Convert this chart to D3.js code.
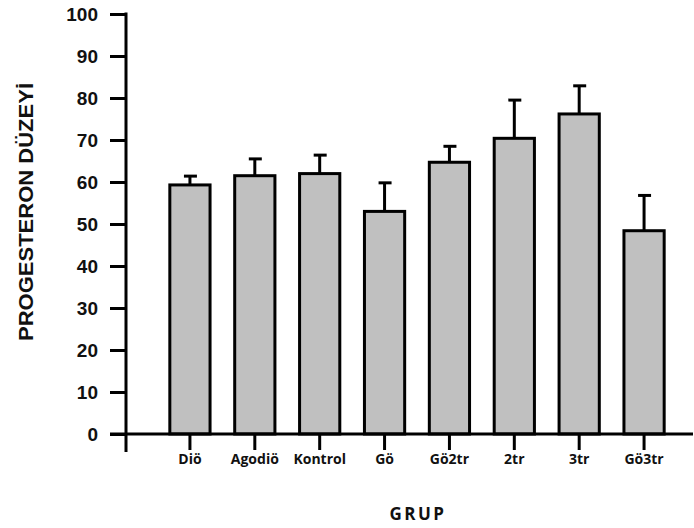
<!DOCTYPE html>
<html>
<head>
<meta charset="utf-8">
<script src="https://cdn.jsdelivr.net/npm/d3@7"></script>
<style>
  body { margin: 0; background: #fff; }
</style>
</head>
<body>
<div id="plot"></div>
<script>
const groups = ["Diö", "Agodiö", "Kontrol", "Gö", "Gö2tr", "2tr", "3tr", "Gö3tr"];
const means = [59.3, 61.5, 62.0, 53.0, 64.7, 70.4, 76.2, 48.4];
const errors = [2.1, 4.0, 4.4, 6.8, 3.8, 9.1, 6.7, 8.4];
const yTicks = [0, 10, 20, 30, 40, 50, 60, 70, 80, 90, 100];

const width = 694;
const height = 528;

const svg = d3
  .select("#plot")
  .append("svg")
  .attr("width", width)
  .attr("height", height);

const yScale = d3.scaleLinear().domain([0, 100]).range([434, 14]);

const xScale = d3
  .scaleBand()
  .domain(groups)
  .range([157.5, 676.5])
  .paddingInner(0.38)
  .paddingOuter(0.19);

// bars
svg
  .selectAll(".bar")
  .data(groups)
  .enter()
  .append("rect")
  .attr("class", "bar")
  .attr("x", (d) => xScale(d))
  .attr("width", xScale.bandwidth())
  .attr("y", (d, i) => yScale(means[i]))
  .attr("height", (d, i) => yScale(0) - yScale(means[i]))
  .attr("fill", "#c0c0c0")
  .attr("stroke", "#000")
  .attr("stroke-width", 3);

// error bars (upper only)
const err = svg.append("g").attr("stroke", "#000").attr("stroke-width", 3);
groups.forEach(function (g, i) {
  const cx = xScale(g) + xScale.bandwidth() / 2;
  err.append("line")
    .attr("x1", cx).attr("x2", cx)
    .attr("y1", yScale(means[i])).attr("y2", yScale(means[i] + errors[i]));
  err.append("line")
    .attr("x1", cx - 6).attr("x2", cx + 7)
    .attr("y1", yScale(means[i] + errors[i])).attr("y2", yScale(means[i] + errors[i]));
});

// y axis
const yAxis = d3.axisLeft(yScale).tickValues(yTicks).tickSize(16).tickPadding(12);
const yG = svg.append("g").attr("transform", "translate(126,0)").call(yAxis);
yG.select(".domain").remove();
yG.selectAll(".tick line").attr("stroke", "#000").attr("stroke-width", 3);
yG.selectAll(".tick text")
  .attr("fill", "#111")
  .style("font-family", "Liberation Sans, Arial, sans-serif")
  .style("font-weight", "bold")
  .style("font-size", "19px");

svg.append("line")
  .attr("x1", 126).attr("x2", 126)
  .attr("y1", yScale(100) - 1.5).attr("y2", 452)
  .attr("stroke", "#000").attr("stroke-width", 3);

// x axis
svg.append("line")
  .attr("x1", 110).attr("x2", 693)
  .attr("y1", yScale(0)).attr("y2", yScale(0))
  .attr("stroke", "#000").attr("stroke-width", 3);

const xAxis = d3.axisBottom(xScale).tickSize(16).tickPadding(4);
const xG = svg.append("g").attr("transform", `translate(0,${yScale(0)})`).call(xAxis);
xG.select(".domain").remove();
xG.selectAll(".tick line").attr("stroke", "#000").attr("stroke-width", 3);
xG.selectAll(".tick text")
  .attr("fill", "#111")
  .style("font-family", "Open Sans, sans-serif")
  .style("font-weight", "bold")
  .style("font-size", "14px");

// axis titles
svg.append("text")
  .attr("transform", "translate(33,212) rotate(-90)")
  .attr("text-anchor", "middle")
  .attr("textLength", 258)
  .attr("lengthAdjust", "spacingAndGlyphs")
  .style("font-family", "Liberation Sans, Arial, sans-serif")
  .style("font-weight", "bold")
  .style("font-size", "21px")
  .attr("fill", "#111")
  .text("PROGESTERON DÜZEYİ");

svg.append("text")
  .attr("x", 418)
  .attr("y", 520)
  .attr("text-anchor", "middle")
  .style("font-family", "Open Sans, sans-serif")
  .style("font-weight", "bold")
  .style("font-size", "17px")
  .style("letter-spacing", "2.5px")
  .attr("fill", "#111")
  .text("GRUP");
</script>
</body>
</html>
